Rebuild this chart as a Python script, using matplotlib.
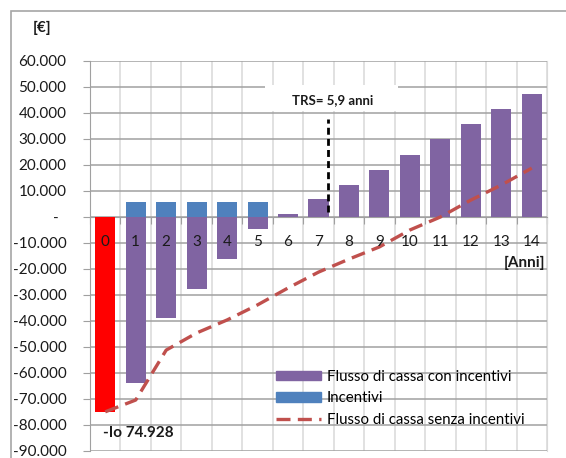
import matplotlib.pyplot as plt
import matplotlib.patches as mpatches
from matplotlib.lines import Line2D
import numpy as np

plt.rcParams['font.family'] = ['Lato', 'DejaVu Sans']

anni = ['0', '1', '2', '3', '4', '5', '6', '7', '8', '9', '10', '11', '12', '13', '14']
con_incentivi = [-74928, -63700, -39000, -27800, -16300, -4600, 1200, 7000,
                 12200, 18100, 23800, 29900, 35600, 41400, 47200]
incentivi = [0, 5900, 5900, 5900, 5900, 5900, 0, 0, 0, 0, 0, 0, 0, 0, 0]
senza_incentivi = [-74928, -70400, -51200, -44600, -39600, -33800, -27300, -21200,
                   -16200, -11500, -5000, 0, 6500, 12300, 18800]
y_ticks = [60000, 50000, 40000, 30000, 20000, 10000, 0, -10000, -20000,
           -30000, -40000, -50000, -60000, -70000, -80000, -90000]

purple = '#8064A2'
blue = '#4F81BD'
red_line = '#C0504D'
txt = '#1a1a1a'

fig = plt.figure(figsize=(5.66, 4.58), dpi=100)
fig.patches.append(mpatches.Rectangle((11/566, -0.1), 1.2, 1 - 11/458 + 0.1,
                                      transform=fig.transFigure, fill=False,
                                      edgecolor='#a6a6a6', lw=1.2))
ax = fig.add_axes([90/566, 7/458, 457/566, 390/458])

x = np.arange(len(anni))
colors = ['#FF0000'] + [purple] * (len(anni) - 1)
ax.bar(x, con_incentivi, width=0.66, color=colors, zorder=3)
ax.bar(x, incentivi, width=0.66, color=blue, zorder=3)
ax.plot(x, senza_incentivi, color=red_line, lw=2.4, dashes=(4.2, 2.2), zorder=4)

ax.set_xlim(-0.5, len(anni) - 0.5)
ax.set_ylim(-90000, 60000)

# grid
ax.set_yticks(y_ticks)
ax.set_yticklabels(['-  ' if v == 0 else f'{v:,}'.replace(',', '.') for v in y_ticks])
ax.yaxis.grid(True, color='#a0a0a0', lw=1.1, zorder=0)
ax.set_xticks(np.arange(-0.5, len(anni)))
ax.set_xticklabels([])
ax.xaxis.grid(True, color='#d9d9d9', lw=1.1, zorder=0)
ax.tick_params(axis='x', length=5, color='#a0a0a0')
ax.tick_params(axis='y', length=5, color='#a0a0a0', pad=12, labelsize=11, labelcolor=txt)

# category labels drawn over the bars
for xi, lab in zip(x, anni):
    ax.text(xi, -9600, lab, ha='center', va='center', fontsize=11, color=txt, zorder=6)

ax.spines['bottom'].set_position(('data', 0))
ax.spines['bottom'].set_color('#a0a0a0')
ax.spines['left'].set_color('#a0a0a0')
ax.spines['top'].set_visible(False)
ax.spines['right'].set_color('#d9d9d9')

# annotations
ax.plot([7.30, 7.30], [1900, 37700], color='black', lw=2, dashes=(2.5, 1.5), zorder=5)
ax.add_patch(mpatches.Rectangle((5.24, 40800), 4.37, 10000, facecolor='white',
                                edgecolor='none', zorder=2))
ax.text(7.47, 45000, 'TRS= 5,9 anni', ha='center', va='center', fontsize=9.5,
        fontweight='bold', color=txt, zorder=6)
ax.text(-0.07, -83100, '-Io 74.928', ha='left', va='center', fontsize=11,
        fontweight='bold', color=txt, zorder=6)
ax.text(14.45, -17800, '[Anni]', ha='right', va='center', fontsize=11,
        fontweight='bold', color=txt, zorder=6)
fig.text(42/566, 1 - 28/458, '[€]', ha='center', va='center', fontsize=11,
         fontweight='bold', color=txt)

handles = [mpatches.Patch(color=purple), mpatches.Patch(color=blue),
           Line2D([0], [0], color=red_line, lw=2.4, dashes=(4.2, 2.2))]
labels = ['Flusso di cassa con incentivi', 'Incentivi', 'Flusso di cassa senza incentivi']
ax.legend(handles, labels, loc='upper left', bbox_to_anchor=(270/566, 1 - 364/458),
          bbox_transform=fig.transFigure, frameon=False, fontsize=10.8,
          handlelength=3.0, handleheight=0.6, handletextpad=0.4, labelspacing=0.5,
          borderaxespad=0)

fig.savefig('out.png', dpi=100)
